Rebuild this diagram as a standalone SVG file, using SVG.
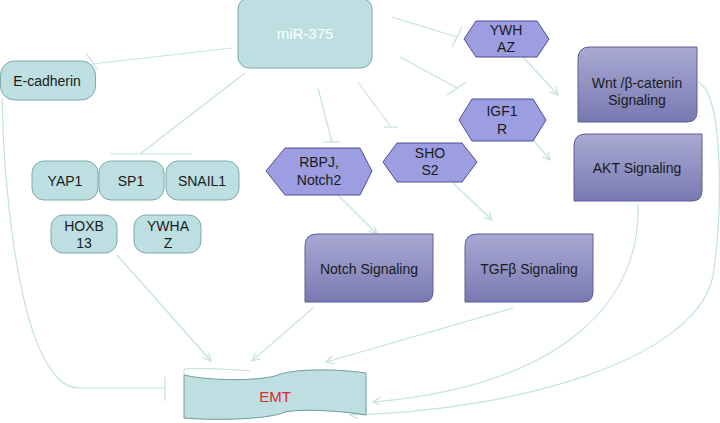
<svg xmlns="http://www.w3.org/2000/svg" width="720" height="423" viewBox="0 0 720 423">
<style>
.t{fill:#bddfe2;stroke:#7ea9ab;stroke-width:1}
.h{fill:#9d9de2;stroke:#4e4e90;stroke-width:1}
.s{fill:url(#pg);stroke:#5e5e96;stroke-width:1}
.c{fill:none;stroke:#c4e3df;stroke-width:1.2}
text{font-family:"Liberation Sans",Arial,sans-serif;font-size:14px;fill:#1a1a1a;text-anchor:middle}
</style>
<defs>
<linearGradient id="pg" x1="0" y1="0" x2="0" y2="1">
<stop offset="0" stop-color="#a9a9d3"/>
<stop offset="1" stop-color="#7979b2"/>
</linearGradient>
<marker id="a" markerWidth="10" markerHeight="10" refX="8" refY="4" orient="auto" markerUnits="userSpaceOnUse">
<path d="M0,0 L8,4 L0,8" fill="none" stroke="#c4e3df" stroke-width="1.2"/>
</marker>
</defs>
<g id="connectors">
<line class="c" x1="232" y1="48" x2="92" y2="64"/>
<line class="c" x1="86" y1="53" x2="98" y2="70"/>
<line class="c" x1="245" y1="73" x2="140" y2="154"/>
<line class="c" x1="110" y1="154" x2="192" y2="154"/>
<line class="c" x1="318" y1="88" x2="332" y2="142"/>
<line class="c" x1="323" y1="142" x2="340" y2="142"/>
<line class="c" x1="358" y1="82" x2="391" y2="127"/>
<line class="c" x1="384" y1="127" x2="398" y2="127"/>
<line class="c" x1="400" y1="57" x2="457" y2="88"/>
<line class="c" x1="447" y1="95" x2="466" y2="82"/>
<line class="c" x1="392" y1="17" x2="457" y2="37"/>
<line class="c" x1="452" y1="47" x2="462" y2="27"/>
<line class="c" x1="523" y1="57" x2="558" y2="95" marker-end="url(#a)"/>
<line class="c" x1="533" y1="140" x2="550" y2="160" marker-end="url(#a)"/>
<line class="c" x1="338" y1="195" x2="377" y2="234" marker-end="url(#a)"/>
<line class="c" x1="453" y1="183" x2="492" y2="220" marker-end="url(#a)"/>
<line class="c" x1="117" y1="255" x2="211" y2="361" marker-end="url(#a)"/>
<line class="c" x1="313" y1="308" x2="252" y2="361" marker-end="url(#a)"/>
<line class="c" x1="513" y1="308" x2="326" y2="362" marker-end="url(#a)"/>
<path class="c" d="M638,203 C642,300 565,385 373,402" marker-end="url(#a)"/>
<path class="c" d="M698,82 C726,95 722,230 712,280 C690,360 520,410 350,415" marker-end="url(#a)"/>
<path class="c" d="M2,98 C4,200 18,300 40,350 C55,380 65,388 80,388 L165,388"/>
<line class="c" x1="165" y1="377" x2="165" y2="401"/>
</g>
<g id="mir375">
<rect class="t" x="238" y="-2" width="134" height="70" rx="11"/>
<text x="305" y="39" style="fill:#ffffff;font-size:15px">miR-375</text>
</g>
<g id="ecadherin">
<rect class="t" x="0.5" y="61" width="95" height="39" rx="14"/>
<text x="47" y="86">E-cadherin</text>
</g>
<g id="yap1">
<rect class="t" x="32" y="161" width="66" height="39" rx="12"/>
<text x="65" y="186">YAP1</text>
</g>
<g id="sp1">
<rect class="t" x="99" y="161" width="65" height="39" rx="12"/>
<text x="131" y="186">SP1</text>
</g>
<g id="snail1">
<rect class="t" x="166" y="161" width="73" height="39" rx="12"/>
<text x="202" y="186">SNAIL1</text>
</g>
<g id="hoxb13">
<rect class="t" x="51" y="215" width="66" height="38" rx="12"/>
<text x="84" y="231">HOXB</text>
<text x="84" y="248">13</text>
</g>
<g id="ywhaz1">
<rect class="t" x="134" y="215" width="67" height="38" rx="12"/>
<text x="168" y="231">YWHA</text>
<text x="168" y="248">Z</text>
</g>
<g id="ywhaz2">
<polygon class="h" points="464,39 476,21 537,21 549,39 537,57 476,57"/>
<text x="506" y="35">YWH</text>
<text x="506" y="52">AZ</text>
</g>
<g id="igf1r">
<polygon class="h" points="459,120 472,99 533,99 546,120 533,141 472,141"/>
<text x="502" y="116">IGF1</text>
<text x="502" y="134">R</text>
</g>
<g id="rbpj">
<polygon class="h" points="266,171 285,148 360,148 372,171 360,195 285,195"/>
<text x="319" y="167">RBPJ,</text>
<text x="319" y="185">Notch2</text>
</g>
<g id="shos2">
<polygon class="h" points="383,162 397,143 462,143 477,162 462,182 397,182"/>
<text x="430" y="158">SHO</text>
<text x="430" y="175">S2</text>
</g>
<g id="wnt">
<path class="s" d="M590,47 H697 V112 Q697,122 687,122 H578 V59 Q578,47 590,47 Z"/>
<text x="637" y="88">Wnt /β-catenin</text>
<text x="637" y="105">Signaling</text>
</g>
<g id="akt">
<path class="s" d="M586,134 H702 V191 Q702,201 692,201 H574 V146 Q574,134 586,134 Z"/>
<text x="637" y="173">AKT Signaling</text>
</g>
<g id="notch">
<path class="s" d="M317,234 H433 V292 Q433,302 423,302 H305 V246 Q305,234 317,234 Z"/>
<text x="369" y="274">Notch Signaling</text>
</g>
<g id="tgfb">
<path class="s" d="M477,234 H593 V292 Q593,302 583,302 H465 V246 Q465,234 477,234 Z"/>
<text x="529" y="274">TGFβ Signaling</text>
</g>
<g id="emt">
<path d="M184,375 V369 C200,368 230,369 250,371" fill="none" stroke="#9fc4c6" stroke-width="0.6"/>
<path d="M184,375 C210,381 255,381 275,376 C290,369 330,368 366,373 L366,415 C335,410 300,409 285,412 C270,419 220,421 184,418 Z" fill="#bddfe2" stroke="#6f9a9c" stroke-width="1"/>
<text x="275" y="402" style="fill:#e02a2a;font-size:15px">EMT</text>
</g>
</svg>
